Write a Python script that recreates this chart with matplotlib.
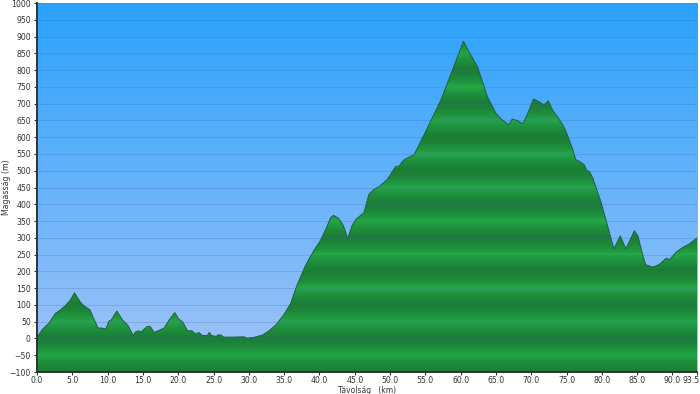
import numpy as np
import matplotlib
matplotlib.use("Agg")
import matplotlib.pyplot as plt
import matplotlib.transforms as mtransforms
from matplotlib.colors import LinearSegmentedColormap

# elevation profile (km, m)
dist_km = [0.0, 0.7, 1.65, 2.6, 3.3, 4.0, 4.7, 5.3, 6.1, 6.6, 7.5, 8.0, 8.65, 9.2, 9.7,
           10.2, 10.5, 11.3, 12.1, 12.9, 13.6, 13.9, 14.4, 14.7, 15.6, 16.0, 16.6, 18.0,
           18.7, 19.5, 20.1, 20.6, 21.3, 21.9, 22.5, 22.9, 23.4, 24.1, 24.4, 24.7, 25.4,
           25.6, 26.1, 26.4, 27.9, 29.3, 29.7, 30.7, 31.9, 32.8, 33.8, 34.9, 35.9, 36.8,
           38.0, 39.2, 40.1, 40.9, 41.6, 42.0, 42.7, 43.4, 44.0, 44.6, 45.2, 46.3, 47.0,
           47.7, 48.4, 49.6, 50.8, 51.2, 52.0, 53.4, 54.8, 57.2, 58.8, 60.4, 61.2, 62.4,
           63.8, 65.0, 65.9, 66.8, 67.3, 68.0, 68.8, 69.5, 70.3, 71.1, 71.8, 72.4, 73.0,
           73.7, 74.6, 75.1, 75.8, 76.3, 76.8, 77.5, 77.9, 78.2, 78.7, 79.9, 80.8, 81.7,
           82.6, 83.4, 84.6, 85.1, 85.8, 86.2, 87.2, 88.1, 89.1, 89.6, 90.5, 91.5, 92.4,
           93.5]
elev_m = [3, 26, 45, 75, 85, 98, 114, 136, 109, 98, 85, 60, 31, 31, 28,
          52, 55, 82, 55, 38, 9, 19, 23, 19, 36, 36, 18, 31,
          55, 77, 57, 50, 23, 23, 13, 18, 9, 9, 18, 9, 6,
          11, 10, 4, 4, 5, 1, 3, 10, 22, 40, 69, 104, 158,
          217, 262, 291, 326, 361, 367, 358, 336, 298, 336, 356, 375, 430,
          444, 452, 474, 513, 513, 533, 548, 607, 711, 799, 886, 854, 809,
          720, 671, 651, 637, 654, 650, 640, 671, 714, 706, 696, 709, 681,
          661, 632, 607, 568, 533, 528, 518, 499, 499, 479, 405, 336, 267,
          306, 267, 321, 306, 247, 220, 213, 220, 239, 235, 257, 272, 282,
          300]

xticks = [0, 5, 10, 15, 20, 25, 30, 35, 40, 45, 50, 55, 60, 65, 70, 75, 80, 85, 90, 93.5]
yticks = list(range(-100, 1001, 50))

x0, x1 = 0, 93.5
y0, y1 = -100, 1000

fig = plt.figure(figsize=(7, 3.94), dpi=100)
ax = fig.add_axes([0.053, 0.0558, 0.943, 0.9365])

# sky gradient
sky = LinearSegmentedColormap.from_list("sky", ["#a3c4f7", "#2ba2fd"])
grad = np.linspace(0, 1, 256).reshape(-1, 1)
ax.imshow(grad, cmap=sky, aspect="auto", extent=[x0, x1, y0, y1],
          origin="lower", zorder=0)

# striped green fill clipped to the profile
yy = np.linspace(y0, y1, 1200)
band = 1 - np.abs(((yy % 100) - 50) / 50.0) ** 0.6
greens = LinearSegmentedColormap.from_list("gr", ["#1a7c35", "#25aa49"])
img = ax.imshow(band.reshape(-1, 1), cmap=greens, aspect="auto",
                extent=[x0, x1, y0, y1], origin="lower", zorder=1)
poly = ax.fill_between(dist_km, elev_m, y0, color="none", lw=0)
clip = poly.get_paths()[0]
img.set_clip_path(clip, transform=ax.transData)
ax.plot(dist_km, elev_m, color="#22603a", lw=0.7, zorder=3)

for v in yticks:
    ax.axhline(v, color="#3f6fa8", lw=0.6, alpha=0.3, zorder=2)

ax.set_xlim(x0, x1)
ax.set_ylim(y0, y1)
ax.set_xticks(xticks)
ax.set_xticklabels(["%.1f" % t for t in xticks])
ax.set_yticks(yticks)
ax.tick_params(labelsize=5.6, colors="#333333", length=2.5, width=0.8, pad=2)
ax.tick_params(axis="x", length=2, pad=1)
last = ax.get_xticklabels()[-1]
last.set_horizontalalignment("right")
last.set_transform(last.get_transform() +
                   mtransforms.ScaledTranslation(2 / 100, 0, fig.dpi_scale_trans))
for s in ["top", "right"]:
    ax.spines[s].set_visible(False)
for s in ["left", "bottom"]:
    ax.spines[s].set_color("#333333")
    ax.spines[s].set_linewidth(1.4)
    ax.spines[s].set_zorder(5)

ax.set_xlabel("Távolság   (km)", fontsize=5.5, color="#333333")
ax.xaxis.set_label_coords(0.5, -0.039)
ax.set_ylabel("Magasság (m)", fontsize=5.6, color="#333333")
ax.yaxis.set_label_coords(-0.040, 0.5)

fig.savefig("out.png", dpi=100)
